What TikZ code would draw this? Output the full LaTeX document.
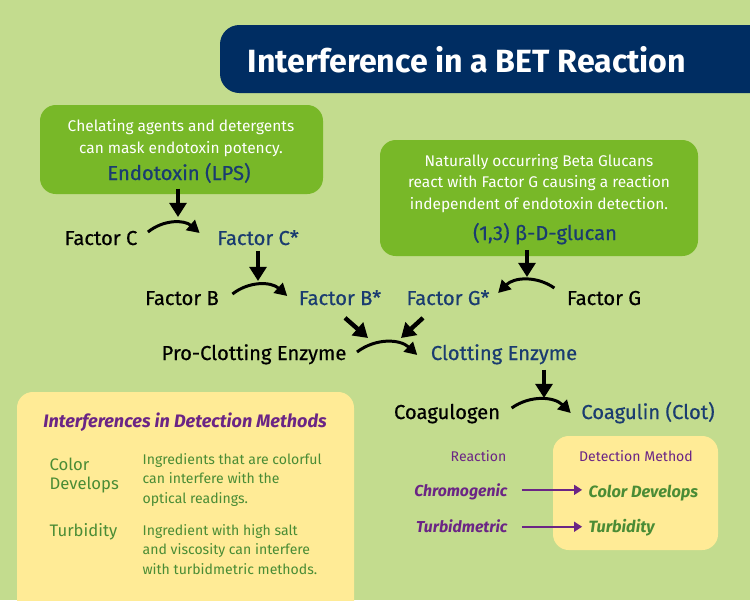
\documentclass[tikz,border=0pt]{standalone}
\usepackage{fontspec}
\setmainfont{Fira Sans}
\newfontfamily\heavier{Fira Sans}[FakeBold=0.6]
\usetikzlibrary{arrows.meta,calc}
\definecolor{leaf}{HTML}{C3DC8E}
\definecolor{lime}{HTML}{78B828}
\definecolor{navy}{HTML}{002D62}
\definecolor{inkblue}{HTML}{1A3C70}
\definecolor{butter}{HTML}{FFEB96}
\definecolor{plum}{HTML}{6B2585}
\definecolor{moss}{HTML}{4A8C35}

\begin{document}
\begin{tikzpicture}[x=0.02cm, y=-0.02cm,
    panel/.style={fill=lime, draw=none, rounded corners=9pt},
    notebox/.style={fill=butter, draw=none, rounded corners=9pt},
    note/.style={anchor=base, text=white, font=\fontsize{8.8}{12.2}\selectfont, align=center},
    inert/.style={anchor=base, text=black, font=\heavier\fontsize{11.5}{14}\selectfont},
    active/.style={anchor=base, text=inkblue, font=\heavier\fontsize{11.5}{14}\selectfont},
    para/.style={anchor=base west, text=moss, font=\fontsize{8}{11}\selectfont, align=left},
    method/.style={anchor=base west, text=moss, font=\fontsize{9.5}{11}\selectfont},
    react/.style={anchor=base east, text=plum, font=\bfseries\itshape\fontsize{9}{11}\selectfont},
    detect/.style={anchor=base west, text=moss, font=\bfseries\itshape\fontsize{9.3}{11}\selectfont},
    push/.style={-{Triangle[length=8pt,width=9.5pt]}, line width=2.5pt},
    turn/.style={-{Triangle[length=7pt,width=7.5pt]}, line width=1.7pt},
    link/.style={-{Triangle[length=4.5pt,width=5.5pt]}, line width=1.1pt, draw=plum},
    every node/.style={inner sep=3pt}
]
\useasboundingbox[fill=leaf] (0,0) rectangle (750,600);

% Title bar
\fill[navy, rounded corners=11pt] (220,25) rectangle (790,93);
\node[anchor=base, text=white, font=\bfseries\fontsize{18.3}{20}\selectfont] (title) at (467,72) {Interference in a BET Reaction};

% Green panels
\fill[panel] (40,105) rectangle (323,194);
\node[note] (lpsnote) at (181,153) {Chelating agents and detergents\\can mask endotoxin potency.};
\node[active] (endo) at (179,180) {Endotoxin (LPS)};

\fill[panel] (380,140) rectangle (698,256);
\node[note] (glunote) at (539,209) {Naturally occurring Beta Glucans\\react with Factor G causing a reaction\\independent of endotoxin detection.};
\node[active] (glucan) at (545,240) {(1,3) β-D-glucan};

% Cascade
\node[inert] (fc) at (101,245) {Factor C};
\node[active] (fcs) at (258,245) {Factor C*};
\node[inert] (fb) at (182,305) {Factor B};
\node[active] (fbs) at (340,305) {Factor B*};
\node[active] (fgs) at (448,305) {Factor G*};
\node[inert] (fg) at (604,305) {Factor G};
\node[inert] (pce) at (254,360) {Pro-Clotting Enzyme};
\node[active] (ce) at (504,360) {Clotting Enzyme};
\node[inert] (coag) at (447,419) {Coagulogen};
\node[active] (clot) at (648,419) {Coagulin (Clot)};

% Activation curves
\draw[turn] ($(fc.base east)+(5,-13)$) to[bend left=40] ($(fcs.base west)+(-12,-12)$);
\draw[turn] ($(fb.base east)+(8,-11)$) to[bend left=40] ($(fbs.base west)+(-6,-9)$);
\draw[turn] ($(fg.base west)+(-7,-17)$) to[bend right=40] ($(fgs.base east)+(3,-12)$);
\draw[turn] ($(pce.base east)+(5,-8)$) to[bend left=40] ($(ce.base west)+(-8,-5)$);
\draw[turn] ($(coag.base east)+(6,-11)$) to[bend left=40] ($(clot.base west)+(-5,-6)$);

% Triggers
\coordinate (lpshit) at (178,217);
\coordinate (fcshit) at (258,281);
\coordinate (gluhit) at (527,277);
\coordinate (cehit) at (544,398);
\draw[push] (endo.south -| lpshit) -- (lpshit);
\draw[push] (fcs.south -| fcshit) -- (fcshit);
\draw[push] (glucan.south -| gluhit) -- (gluhit);
\draw[push] (ce.south -| cehit) -- (cehit);
\draw[push] ($(fbs.south)+(5,7)$) -- (368,338);
\draw[push] ($(fgs.south)+(-25,7)$) -- (401,338);

% Interferences box
\fill[notebox] (17,392) rectangle (354,630);
\node[anchor=base, text=plum, font=\bfseries\itshape\fontsize{10.3}{12}\selectfont] (boxtitle) at (185,427) {Interferences in Detection Methods};
\node[method, align=left, font=\fontsize{9.5}{10.8}\selectfont] (colordev) at (44,489) {Color\\Develops};
\node[para] (colortxt) at (137,503) {Ingredients that are colorful\\can interfere with the\\optical readings.};
\node[method] (turbid) at (44,536) {Turbidity};
\node[para] (turbtxt) at (137,574) {Ingredient with high salt\\and viscosity can interfere\\with turbidmetric methods.};

% Reaction / detection
\fill[notebox] (553,436) rectangle (718,550);
\node[anchor=base east, text=plum, font=\fontsize{8}{10}\selectfont] (rhead) at (512,461) {Reaction};
\node[anchor=base, text=plum, font=\fontsize{8}{10}\selectfont] (dhead) at (636,461) {Detection Method};
\node[react] (chromo) at (513,496) {Chromogenic};
\node[detect] (cdev) at (583,497) {Color Develops};
\node[react] (turbo) at (513,532) {Turbidmetric};
\node[detect] (turb) at (583,532) {Turbidity};
\draw[link, shorten <=5pt, shorten >=0.5pt] ([yshift=3.5pt]chromo.base east) -- ([yshift=3.5pt]chromo.base east -| cdev.west);
\draw[link, shorten <=5pt, shorten >=0.5pt] ([yshift=3pt]turbo.base east) -- ([yshift=3pt]turbo.base east -| turb.west);
\end{tikzpicture}
\end{document}
